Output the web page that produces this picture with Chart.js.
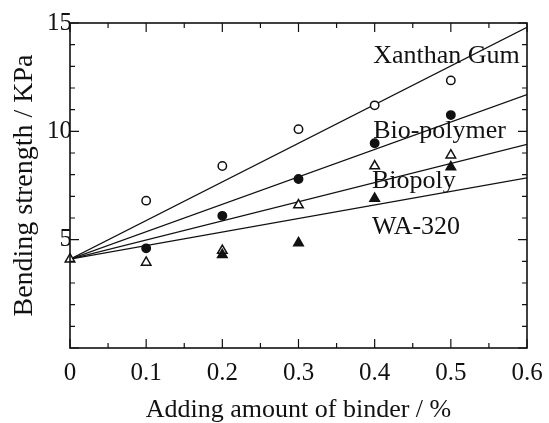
<!DOCTYPE html>
<html><head><meta charset="utf-8">
<script src="https://cdn.jsdelivr.net/npm/chart.js@4/dist/chart.umd.min.js"></script>
<style>html,body{margin:0;padding:0;background:#fff}#wrap{width:549px;height:423px;position:relative}</style>
</head><body><div id="wrap"><canvas id="c"></canvas></div>
<script>
// ---- data ----
const binderAmount = [0, 0.1, 0.2, 0.3, 0.4, 0.5];
const xanthanGum  = [null, 6.8, 8.4, 10.1, 11.2, 12.35];
const bioPolymer  = [null, 4.6, 6.1, 7.8, 9.45, 10.75];
const biopoly     = [4.1, 3.95, 4.5, 6.6, 8.4, 8.9];
const wa320       = [null, null, 4.3, 4.85, 6.9, 8.35];
const fitX          = [0, 0.6];
const fitXanthanGum = [4.1, 14.8];
const fitBioPolymer = [4.1, 11.7];
const fitBiopoly    = [4.1, 9.4];
const fitWa320      = [4.1, 7.85];
const seriesNames = ['Xanthan Gum', 'Bio-polymer', 'Biopoly', 'WA-320'];
const xTickLabels = ['0', '0.1', '0.2', '0.3', '0.4', '0.5', '0.6'];
const yTickLabels = ['5', '10', '15'];

// ---- label anchors (data units) ----
const labelX = [0.398, 0.398, 0.3965, 0.3965];
const labelY = [13.15, 9.69, 7.38, 5.26];

const INK = '#111';
const SERIF = '"Liberation Serif", "Times New Roman", serif';

function pts(xs, ys) { return xs.map((x, i) => ({x, y: ys[i]})).filter(p => p.y !== null); }

const frame = {
  id: 'frame',
  beforeDatasetsDraw(chart) {
    const {ctx, scales: {x, y}} = chart;
    ctx.save();
    ctx.fillStyle = INK;
    ctx.font = '26px ' + SERIF;
    ctx.textAlign = 'left';
    ctx.textBaseline = 'alphabetic';
    seriesNames.forEach((n, i) => ctx.fillText(n, x.getPixelForValue(labelX[i]), y.getPixelForValue(labelY[i])));
    ctx.restore();
  },
  afterDraw(chart) {
    const {ctx, chartArea: a, scales: {x, y}} = chart;
    ctx.save();
    ctx.strokeStyle = INK;
    ctx.lineWidth = 1.6;
    ctx.strokeRect(a.left, a.top, a.right - a.left, a.bottom - a.top);
    ctx.lineWidth = 1.2;
    ctx.beginPath();
    x.ticks.forEach(t => {
      const px = x.getPixelForValue(t.value);
      const major = Math.abs(t.value * 10 - Math.round(t.value * 10)) < 1e-6;
      const L = major ? 9 : 5;
      ctx.moveTo(px, a.bottom); ctx.lineTo(px, a.bottom - L);
      ctx.moveTo(px, a.top); ctx.lineTo(px, a.top + L);
    });
    y.ticks.forEach(t => {
      const py = y.getPixelForValue(t.value);
      const major = Math.round(t.value) % 5 === 0;
      const L = major ? 9 : 5;
      ctx.moveTo(a.left, py); ctx.lineTo(a.left + L, py);
      ctx.moveTo(a.right, py); ctx.lineTo(a.right - L, py);
    });
    ctx.stroke();
    ctx.restore();
  }
};

const fitLine = (ys) => ({
  type: 'line', data: pts(fitX, ys), showLine: true, borderColor: INK, borderWidth: 1.3,
  pointRadius: 0, fill: false, tension: 0, order: 2
});
const marker = (ys, style, filled, r) => ({
  type: 'scatter', data: pts(binderAmount, ys), showLine: false, pointStyle: style,
  pointRadius: r, pointHoverRadius: r, pointBorderWidth: 1.5, pointBorderColor: INK,
  pointBackgroundColor: filled ? INK : '#fff', clip: false, order: 1
});

new Chart(document.getElementById('c'), {
  type: 'scatter',
  data: {
    datasets: [
      fitLine(fitXanthanGum), fitLine(fitBioPolymer), fitLine(fitBiopoly), fitLine(fitWa320),
      Object.assign(marker(xanthanGum, 'circle', false, 4.2), {label: seriesNames[0]}),
      Object.assign(marker(bioPolymer, 'circle', true, 4.2), {label: seriesNames[1]}),
      Object.assign(marker(wa320, 'triangle', true, 5.5), {label: seriesNames[3]}),
      Object.assign(marker(biopoly, 'triangle', false, 5.5), {label: seriesNames[2]})
    ]
  },
  options: {
    responsive: true, maintainAspectRatio: false, animation: false,
    layout: {padding: {top: 23, right: 22, bottom: 0, left: 0}},
    plugins: {legend: {display: false}, tooltip: {enabled: false}},
    scales: {
      x: {
        type: 'linear', min: 0, max: 0.6,
        grid: {display: false, drawTicks: true, tickLength: 5}, border: {display: false},
        afterFit(s) { s.height = 75; },
        ticks: {
          stepSize: 0.05, autoSkip: false, maxRotation: 0, padding: 5, color: INK,
          font: {family: SERIF, size: 25},
          callback(v) { const k = Math.round(v * 10); return Math.abs(v * 10 - k) < 1e-6 ? xTickLabels[k] : ''; }
        },
        title: {display: true, text: 'Adding amount of binder / %', color: INK,
          font: {family: SERIF, size: 26, lineHeight: 1}, padding: {top: 0, bottom: 0}}
      },
      y: {
        type: 'linear', min: 0, max: 15,
        grid: {display: false, drawTicks: false}, border: {display: false},
        afterFit(s) { s.width = 70; },
        ticks: {
          stepSize: 1, autoSkip: false, padding: -2, color: INK,
          font: {family: SERIF, size: 25},
          callback(v) { return (v > 0 && v % 5 === 0) ? yTickLabels[v / 5 - 1] : ''; }
        },
        title: {display: true, text: 'Bending strength / KPa', color: INK,
          font: {family: SERIF, size: 28, lineHeight: 1.2}, padding: {top: 8, bottom: 0}}
      }
    }
  },
  plugins: [frame]
});
</script>
</body></html>
